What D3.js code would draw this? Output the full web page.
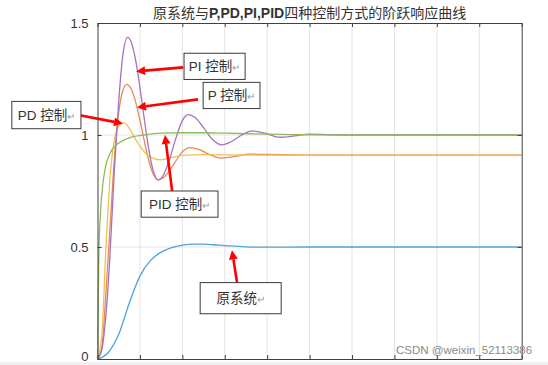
<!DOCTYPE html>
<html><head><meta charset="utf-8">
<script src="https://cdn.jsdelivr.net/npm/d3@7"></script>
<style>
html,body{margin:0;padding:0;background:#fff;}
svg{display:block;}
text{font-family:"Liberation Sans","Noto Sans CJK SC",sans-serif;}
</style></head>
<body><svg id="chart" width="548" height="365"></svg>
<script>
// ---- data ----
const titleText = "原系统与P,PD,PI,PID四种控制方式的阶跃响应曲线";
const xTicks = [0,1,2,3,4,5,6,7,8,9,10];
const yTicks = [0, 0.5, 1, 1.5];
const yTickLabels = ["0", "0.5", "1", "1.5"];

const tOrig = [0,0.25,0.5,0.75,1.0,1.25,1.5,1.75,2.0,2.25,2.5,2.75,3.0,3.5,4,5,6,8,10];
const yOrig = [0,0.028,0.11,0.25,0.37,0.44,0.477,0.497,0.508,0.513,0.513,0.51,0.506,0.501,0.499,0.5,0.5,0.5,0.5];

const tP = [0,0.1,0.2,0.25,0.3,0.4,0.5,0.6,0.69,0.8,0.9,1.0,1.1,1.2,1.3,1.43,1.55,1.7,1.85,2.0,2.18,2.4,2.65,2.9,3.2,3.6,4,5,6,10];
const yP = [0,0.05,0.3,0.45,0.6,0.9,1.1,1.2,1.226,1.203,1.147,1.067,0.977,0.893,0.831,0.80,0.809,0.841,0.885,0.925,0.944,0.935,0.912,0.897,0.903,0.915,0.913,0.91,0.91,0.91];

const tPD = [0,0.1,0.2,0.3,0.4,0.5,0.62,0.75,0.9,1.0,1.15,1.3,1.5,1.75,2.0,2.5,3,4,6,10];
const yPD = [0,0.1,0.5,0.82,0.98,1.04,1.054,1.03,0.98,0.95,0.915,0.897,0.889,0.9,0.909,0.912,0.911,0.91,0.91,0.91];

const tPI = [0,0.1,0.2,0.29,0.4,0.5,0.6,0.71,0.8,0.9,1.0,1.1,1.2,1.3,1.43,1.55,1.7,1.85,2.0,2.14,2.3,2.5,2.7,2.93,3.15,3.4,3.65,3.95,4.3,4.65,5.0,5.5,6,8,10];
const yPI = [0,0.04,0.2,0.45,0.85,1.15,1.36,1.436,1.412,1.333,1.213,1.076,0.947,0.85,0.80,0.82,0.892,0.987,1.064,1.091,1.078,1.033,0.982,0.956,0.97,1.0,1.018,1.008,0.99,0.996,1.004,1.001,1.0,1.0,1.0];

const tPID = [0,0.03,0.07,0.12,0.18,0.3,0.41,0.6,0.8,1.1,1.5,2,2.5,3,4,5,6,8,10];
const yPID = [0,0.45,0.65,0.77,0.85,0.92,0.95,0.975,0.99,1.0,1.008,1.01,1.01,1.008,1.004,1.001,1.0,1.0,1.0];

const seriesNames = ["原系统","P 控制","PD 控制","PI 控制","PID 控制"];
const seriesColors = ["#4fa3dc","#e8885c","#f1c04f","#a572bf","#8dbd5a"];

// annotation boxes (data units: t0,t1,v0,v1) and arrows (tail t,v -> head t,v)
const annoLabels = ["PI 控制","P 控制","PD 控制","PID 控制","原系统"];
const annoBoxes = [[2.04,3.48,1.365,1.248],[2.49,3.83,1.235,1.118],[-2.02,-0.39,1.15,1.028],[1.03,2.84,0.75,0.633],[2.42,4.33,0.341,0.202]];
const annoArrows = [[2.02,1.302,0.91,1.284],[2.37,1.159,0.93,1.123],[-0.39,1.087,0.60,1.051],[1.76,0.75,1.59,1.0],[3.29,0.341,3.17,0.485]];

// ---- drawing ----
const W = 548, H = 365;
const m = {left:97.5, right:26.3, top:23, bottom:6};
const svg = d3.select("#chart");
svg.append("rect").attr("x",0).attr("y",0).attr("width",W).attr("height",H).attr("fill","#fff");
svg.append("rect").attr("x",0).attr("y",362).attr("width",W).attr("height",3).attr("fill","#f0f0f0");

const x = d3.scaleLinear().domain([0,10]).range([m.left, W-m.right]);
const y = d3.scaleLinear().domain([0,1.5]).range([H-m.bottom, m.top]);

// grid
const grid = svg.append("g");
grid.selectAll("line.vg").data(xTicks.slice(1,-1)).join("line")
  .attr("x1",d=>x(d)).attr("x2",d=>x(d)).attr("y1",y(0)).attr("y2",y(1.5))
  .attr("stroke","#e3e3e3").attr("stroke-width",1);
grid.selectAll("line.hg").data(yTicks.slice(1,-1)).join("line")
  .attr("x1",x(0)).attr("x2",x(10)).attr("y1",d=>y(d)).attr("y2",d=>y(d))
  .attr("stroke","#e3e3e3").attr("stroke-width",1);

// curves
const series = [[tOrig,yOrig],[tP,yP],[tPD,yPD],[tPI,yPI],[tPID,yPID]];
const line = d3.line().x(d=>x(d[0])).y(d=>y(d[1])).curve(d3.curveMonotoneX);
series.forEach((s,i)=>{
  const pts = s[0].map((t,j)=>[t,s[1][j]]);
  svg.append("path").datum(pts).attr("d",line).attr("fill","none")
    .attr("stroke",seriesColors[i]).attr("stroke-width",1.3);
});

// axes
const axCol = "#404040";
function styleAxis(g){ g.select(".domain").attr("stroke",axCol); g.selectAll(".tick line").attr("stroke",axCol); g.selectAll("text").attr("fill","#333").style("font-size","13px"); }
svg.append("g").attr("transform",`translate(0,${y(0)})`)
  .call(d3.axisBottom(x).tickValues(xTicks).tickFormat("").tickSizeInner(-4).tickSizeOuter(0)).call(styleAxis);
svg.append("g").attr("transform",`translate(0,${y(1.5)})`)
  .call(d3.axisTop(x).tickValues(xTicks).tickFormat("").tickSizeInner(-4).tickSizeOuter(0)).call(styleAxis);
const yAx = svg.append("g").attr("transform",`translate(${x(0)},0)`)
  .call(d3.axisLeft(y).tickValues(yTicks).tickFormat((d,i)=>yTickLabels[i]).tickSizeInner(-4).tickSizeOuter(0).tickPadding(9)).call(styleAxis);
yAx.selectAll(".tick text").filter(d=>d===0).attr("dy","0.1em");
svg.append("g").attr("transform",`translate(${x(10)},0)`)
  .call(d3.axisRight(y).tickValues(yTicks).tickFormat("").tickSizeInner(-4).tickSizeOuter(0)).call(styleAxis);

// title
const tt = svg.append("text").attr("x",(x(0)+x(10))/2).attr("y",18).attr("text-anchor","middle")
  .attr("fill","#333").style("font-size","14px");
tt.append("tspan").text("原系统与");
tt.append("tspan").attr("font-weight","bold").text("P,PD,PI,PID");
tt.append("tspan").text("四种控制方式的阶跃响应曲线");

// annotations
const red = "#ff0000";
annoArrows.forEach(a=>{
  const x1=x(a[0]), y1=y(a[1]), x2=x(a[2]), y2=y(a[3]);
  const ang = Math.atan2(y2-y1,x2-x1), L=9, Wd=4.5;
  const bx = x2 - L*Math.cos(ang), by = y2 - L*Math.sin(ang);
  svg.append("line").attr("x1",x1).attr("y1",y1).attr("x2",bx).attr("y2",by)
    .attr("stroke",red).attr("stroke-width",2.6);
  svg.append("path").attr("d",`M${x2},${y2}L${bx+Wd*Math.sin(ang)},${by-Wd*Math.cos(ang)}L${bx-Wd*Math.sin(ang)},${by+Wd*Math.cos(ang)}Z`)
    .attr("fill",red);
});
annoBoxes.forEach((b,i)=>{
  const x0=x(b[0]), x1=x(b[1]), y0=y(b[2]), y1=y(b[3]);
  svg.append("rect").attr("x",x0).attr("y",y0).attr("width",x1-x0).attr("height",y1-y0)
    .attr("fill","#fff").attr("stroke","#3a3a3a").attr("stroke-width",1);
  const t = svg.append("text").attr("x",(x0+x1)/2).attr("y",(y0+y1)/2+5).attr("text-anchor","middle")
    .attr("fill","#333").style("font-size","13.5px");
  t.append("tspan").text(annoLabels[i]);
  t.append("tspan").attr("fill","#999").style("font-size","10px").text("↵");
});

// watermark
svg.append("text").attr("x",396).attr("y",354).attr("fill","#8a8a8a").style("font-size","11.5px")
  .text("CSDN @weixin_52113386");
</script></body></html>
